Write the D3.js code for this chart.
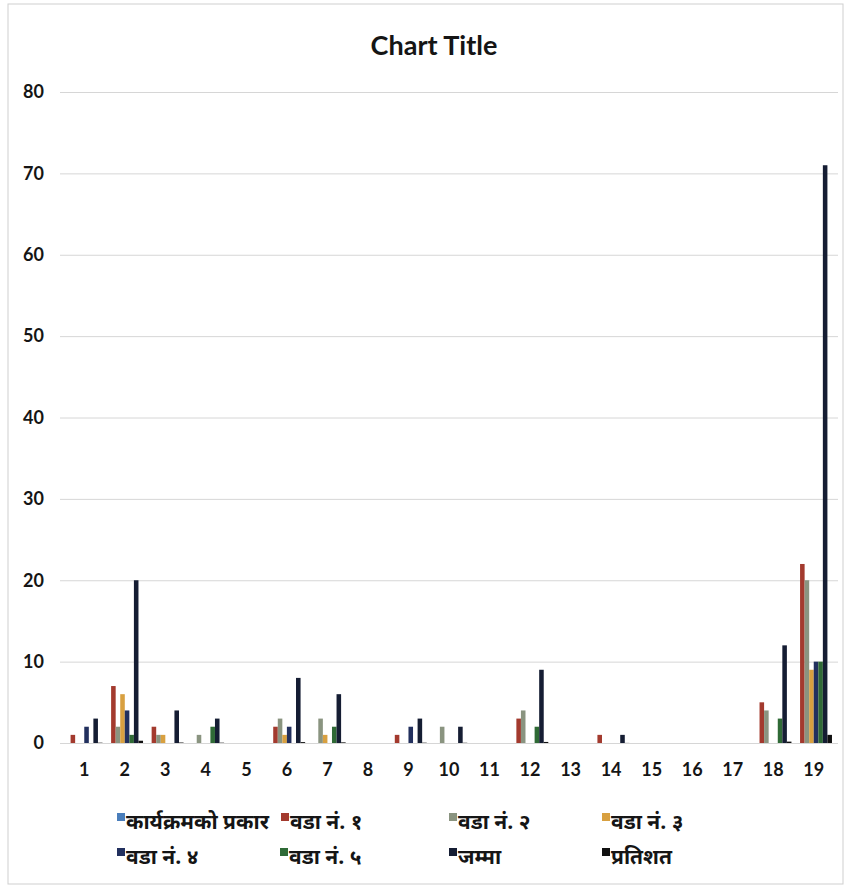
<!DOCTYPE html>
<html>
<head>
<meta charset="utf-8">
<script src="https://cdn.jsdelivr.net/npm/d3@7"></script>
<style>
  html, body { margin: 0; padding: 0; background: #fff; }
  svg { display: block; }
</style>
</head>
<body>
<svg id="chart" width="849" height="888"></svg>
<script>
// ---- data ----
const categories = ["1","2","3","4","5","6","7","8","9","10","11","12","13","14","15","16","17","18","19"];
const seriesNames = ["कार्यक्रमको प्रकार", "वडा नं. १", "वडा नं. २", "वडा नं. ३", "वडा नं. ४", "वडा नं. ५", "जम्मा", "प्रतिशत"];
const karyakramPrakar = [0,0,0,0,0,0,0,0,0,0,0,0,0,0,0,0,0,0,0];
const wada1 = [1,7,2,0,0,2,0,0,1,0,0,3,0,1,0,0,0,5,22];
const wada2 = [0,2,1,1,0,3,3,0,0,2,0,4,0,0,0,0,0,4,20];
const wada3 = [0,6,1,0,0,1,1,0,0,0,0,0,0,0,0,0,0,0,9];
const wada4 = [2,4,0,0,0,2,0,0,2,0,0,0,0,0,0,0,0,0,10];
const wada5 = [0,1,0,2,0,0,2,0,0,0,0,2,0,0,0,0,0,3,10];
const jamma = [3,20,4,3,0,8,6,0,3,2,0,9,0,1,0,0,0,12,71];
const pratishat = [0.04,0.28,0.06,0.04,0,0.11,0.08,0,0.04,0.03,0,0.13,0,0.01,0,0,0,0.17,1];
const yTicks = [0,10,20,30,40,50,60,70,80];
const chartTitle = "Chart Title";

const seriesValues = [karyakramPrakar, wada1, wada2, wada3, wada4, wada5, jamma, pratishat];
const colors = ["#4a7ebb", "#a33a2e", "#8a9480", "#d8a040", "#22305e", "#2f6a36", "#151d33", "#111111"];

// ---- layout ----
const svg = d3.select("#chart");
const plot = { left: 64, right: 834, top: 92, bottom: 743 };
const tickFont = "Lato, 'Open Sans', sans-serif";

svg.append("rect")
  .attr("x", 8).attr("y", 4).attr("width", 835).attr("height", 880)
  .attr("fill", "#fff").attr("stroke", "#cfcfcf").attr("stroke-width", 1);

const x = d3.scaleBand().domain(categories).range([plot.left, plot.right]).paddingInner(0.1).paddingOuter(0.05);
const xs = d3.scaleBand().domain(d3.range(seriesNames.length)).range([0, x.bandwidth()]).padding(0);
const y = d3.scaleLinear().domain([0, 80]).range([plot.bottom, plot.top]);

// gridlines + y labels
const yAxis = d3.axisLeft(y).tickValues(yTicks).tickSize(-(838 - 60)).tickPadding(16);
const gy = svg.append("g").attr("transform", `translate(60,0)`).call(yAxis);
gy.select(".domain").remove();
gy.selectAll(".tick line").attr("stroke", "#d6d6d6").attr("stroke-width", 1);
gy.selectAll(".tick text")
  .attr("fill", "#151515")
  .style("font-family", tickFont)
  .style("font-size", "18px").style("font-weight", "700");

// bars
const groups = svg.append("g").selectAll("g")
  .data(categories).join("g")
  .attr("transform", d => `translate(${x(d)},0)`);

groups.selectAll("rect")
  .data((d, i) => seriesValues.map((arr, s) => ({ s, v: arr[i] })))
  .join("rect")
  .attr("x", d => xs(d.s))
  .attr("width", xs.bandwidth())
  .attr("y", d => y(d.v))
  .attr("height", d => y(0) - y(d.v))
  .attr("fill", d => colors[d.s]);

// x axis labels
const xAxis = d3.axisBottom(x).tickSize(0).tickPadding(20);
const gx = svg.append("g").attr("transform", `translate(0,${plot.bottom})`).call(xAxis);
gx.select(".domain").remove();
gx.selectAll(".tick text")
  .attr("fill", "#151515")
  .style("font-family", tickFont)
  .style("font-size", "18px").style("font-weight", "700");

// title
svg.append("text")
  .attr("x", 434).attr("y", 55)
  .attr("text-anchor", "middle")
  .attr("fill", "#151515")
  .style("font-family", tickFont)
  .style("font-size", "27px").style("font-weight", "700")
  .text(chartTitle);

// legend
const legendX = [[117, 281, 449, 602], [117, 280, 449, 602]];
const legendY = [823, 858];
const legend = svg.append("g");
seriesNames.forEach((name, i) => {
  const row = Math.floor(i / 4), col = i % 4;
  const lx = legendX[row][col], ly = legendY[row];
  const g = legend.append("g").attr("transform", `translate(${lx},${ly})`);
  g.append("rect").attr("x", 0).attr("y", -10).attr("width", 8).attr("height", 8).attr("fill", colors[i]);
  g.append("text").attr("x", 9).attr("y", 0).attr("dy", "0.3em")
    .attr("fill", "#151515")
    .style("font-family", "'Noto Sans Devanagari', 'Lohit Devanagari', 'Noto Sans', sans-serif")
    .style("font-size", "21px").style("font-weight", "700")
    .text(name);
});
</script>
</body>
</html>
